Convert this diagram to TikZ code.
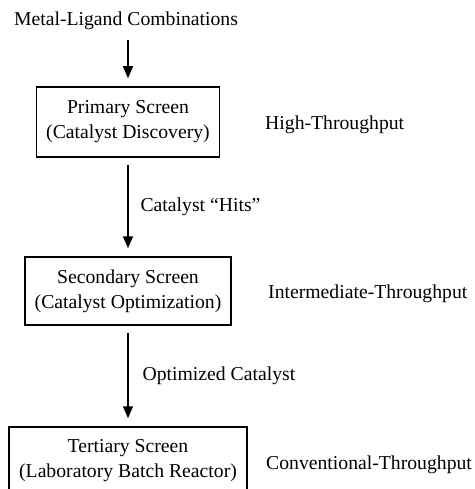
\documentclass[tikz,border=0pt]{standalone}
\usepackage{fontspec}
\setmainfont{Liberation Serif}
\usetikzlibrary{arrows.meta}

\tikzset{
  screen/.style = {draw, line width=1.5pt, align=center, inner sep=0pt},
  flow/.style = {-{Triangle[length=12pt,width=10pt]}, line width=1.5pt,
                 shorten <=7pt, shorten >=8pt},
  rate/.style = {anchor=west, inner sep=0pt},
}

\begin{document}
\begin{tikzpicture}[x=1pt, y=-1pt, node distance=169pt,
                    font=\fontsize{19.7}{25}\selectfont]
\useasboundingbox (0,0) rectangle (474,489);
\clip (0,0) rectangle (474,489);

% screening stages
\node (mlc) at (126,21) {Metal-Ligand Combinations};
\node (prim) [screen, minimum width=183pt, minimum height=70pt] at (128,122)
      {Primary Screen\\(Catalyst Discovery)};
\node (sec) [screen, minimum width=206pt, minimum height=68pt, below of=prim]
      {Secondary Screen\\(Catalyst Optimization)};
\node (tert) [screen, minimum width=238pt, minimum height=67pt, below of=sec, yshift=-0.5pt]
      {Tertiary Screen\\(Laboratory Batch Reactor)};

% throughput next to each stage
\node (high) [rate] at (265,125) {High-Throughput};
\node (inter) [rate] at (268,294) {Intermediate-Throughput};
\node (conv) [rate] at (266,465) {Conventional-Throughput};

% arrows between stages
\draw[flow] (mlc.south -| prim.north) -- (prim.north);
\draw[flow] (prim) -- node[right=8.5pt] (hits) {Catalyst ``Hits''} (sec);
\draw[flow] (sec) -- node[right=10.5pt] (opt) {Optimized Catalyst} (tert);
\end{tikzpicture}
\end{document}
